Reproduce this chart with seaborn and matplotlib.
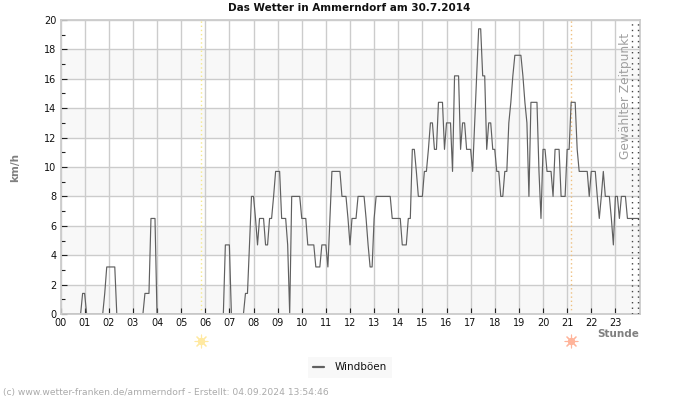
import numpy as np
import pandas as pd
import matplotlib
matplotlib.use("Agg")
import matplotlib.pyplot as plt
import seaborn as sns

# wind gusts in km/h, 5 minute readings, one list per hour
h00 = [0, 0, 0, 0, 0, 0, 0, 0, 0, 0, 0, 1.4]
h01 = [1.4, 0, 0, 0, 0, 0, 0, 0, 0, 0, 1.4, 3.2]
h02 = [3.2, 3.2, 3.2, 3.2, 0, 0, 0, 0, 0, 0, 0, 0]
h03 = [0, 0, 0, 0, 0, 0, 1.4, 1.4, 1.4, 6.5, 6.5, 6.5]
h04 = [0, 0, 0, 0, 0, 0, 0, 0, 0, 0, 0, 0]
h05 = [0, 0, 0, 0, 0, 0, 0, 0, 0, 0, 0, 0]
h06 = [0, 0, 0, 0, 0, 0, 0, 0, 0, 0, 4.7, 4.7]
h07 = [4.7, 0, 0, 0, 0, 0, 0, 0, 1.4, 1.4, 4.7, 8.0]
h08 = [8.0, 6.5, 4.7, 6.5, 6.5, 6.5, 4.7, 4.7, 6.5, 6.5, 8.0, 9.7]
h09 = [9.7, 9.7, 6.5, 6.5, 6.5, 4.7, 0, 8.0, 8.0, 8.0, 8.0, 8.0]
h10 = [6.5, 6.5, 6.5, 4.7, 4.7, 4.7, 4.7, 3.2, 3.2, 3.2, 4.7, 4.7]
h11 = [4.7, 3.2, 6.5, 9.7, 9.7, 9.7, 9.7, 9.7, 8.0, 8.0, 8.0, 6.5]
h12 = [4.7, 6.5, 6.5, 6.5, 8.0, 8.0, 8.0, 8.0, 6.5, 4.7, 3.2, 3.2]
h13 = [6.5, 8.0, 8.0, 8.0, 8.0, 8.0, 8.0, 8.0, 8.0, 6.5, 6.5, 6.5]
h14 = [6.5, 6.5, 4.7, 4.7, 4.7, 6.5, 6.5, 11.2, 11.2, 9.7, 8.0, 8.0]
h15 = [8.0, 9.7, 9.7, 11.2, 13.0, 13.0, 11.2, 11.2, 14.4, 14.4, 14.4, 11.2]
h16 = [13.0, 13.0, 13.0, 9.7, 16.2, 16.2, 16.2, 11.2, 13.0, 13.0, 11.2, 11.2]
h17 = [11.2, 9.7, 13.0, 16.2, 19.4, 19.4, 16.2, 16.2, 11.2, 13.0, 13.0, 11.2]
h18 = [11.2, 9.7, 9.7, 8.0, 8.0, 9.7, 9.7, 13.0, 14.4, 16.2, 17.6, 17.6]
h19 = [17.6, 17.6, 16.2, 14.4, 13.0, 8.0, 14.4, 14.4, 14.4, 14.4, 9.7, 6.5]
h20 = [11.2, 11.2, 9.7, 9.7, 9.7, 8.0, 11.2, 11.2, 11.2, 8.0, 8.0, 8.0]
h21 = [11.2, 11.2, 14.4, 14.4, 14.4, 11.2, 9.7, 9.7, 9.7, 9.7, 9.7, 8.0]
h22 = [9.7, 9.7, 9.7, 8.0, 6.5, 8.0, 9.7, 8.0, 8.0, 8.0, 6.5, 4.7]
h23 = [8.0, 8.0, 6.5, 8.0, 8.0, 8.0, 6.5, 6.5, 6.5, 6.5, 6.5, 6.5, 6.5]

hour_lists = [h00, h01, h02, h03, h04, h05, h06, h07, h08, h09, h10, h11,
              h12, h13, h14, h15, h16, h17, h18, h19, h20, h21, h22, h23]
gusts = [v for h in hour_lists for v in h]
df = pd.DataFrame({"stunde": np.arange(len(gusts)) / 12, "wind": gusts})

hour_labels = ["%02d" % i for i in range(24)]
y_labels = [0, 2, 4, 6, 8, 10, 12, 14, 16, 18, 20]
sunrise = 5.83
sunset = 21.18
selected = [23.7, 23.94]

sns.set_theme(style="white")
plt.rcParams["font.family"] = "DejaVu Sans"

fig = plt.figure(figsize=(7, 4), dpi=100, facecolor="white")
ax = fig.add_axes([60.5 / 700, 86 / 400, 579 / 700, 294 / 400])

# bands and grid
for low in [0, 4, 8, 12, 16]:
    ax.axhspan(low, low + 2, color="#f8f8f8", lw=0, zorder=0)
ax.grid(True, color="#cccccc", lw=1, zorder=1)
ax.set_axisbelow(True)

ax.axvline(sunrise, color="#f5e88a", lw=1, ls=(0, (1, 2)), zorder=2)
ax.axvline(sunset, color="#eec080", lw=1, ls=(0, (1, 2)), zorder=2)
for x in selected:
    ax.axvline(x, color="#444444", lw=1, ls=(0, (1, 3)), zorder=5)

sns.lineplot(data=df, x="stunde", y="wind", color="#606060", lw=0.85, ax=ax,
             label="Windböen", errorbar=None, estimator=None, zorder=3)

ax.set_xlim(0, 24)
ax.set_ylim(0, 20)
ax.set_xticks(range(24))
ax.set_xticklabels(hour_labels)
ax.set_yticks(y_labels)
ax.set_yticks(range(1, 20, 2), minor=True)
ax.tick_params(axis="both", which="major", direction="in", length=4, width=0.8,
               color="#222222", labelsize=7, labelcolor="#111111", pad=3,
               bottom=True, left=True)
ax.tick_params(axis="y", which="minor", direction="in", length=3, width=0.8,
               color="#222222", left=True)
for side in ax.spines.values():
    side.set_color("#cccccc")
    side.set_linewidth(1.3)
    side.set_zorder(4)

ax.set_xlabel("")
ax.set_ylabel("")
fig.text(15.5 / 700, 1 - 167 / 400, "km/h", rotation=90, ha="center", va="center",
         fontsize=7.5, fontweight="bold", color="#808080")
fig.text(639 / 700, 1 - 334 / 400, "Stunde", ha="right", va="center",
         fontsize=7.5, fontweight="bold", color="#808080")
fig.text(349.5 / 700, 1 - 8 / 400, "Das Wetter in Ammerndorf am 30.7.2014", ha="center",
         va="center", fontsize=7.5, fontweight="bold", color="#111111")
fig.text(625 / 700, 1 - 95.5 / 400, "Gewählter Zeitpunkt", rotation=90, ha="center",
         va="center", fontsize=8.8, color="#a0a0a0")
fig.text(3 / 700, 1 - 393 / 400, "(c) www.wetter-franken.de/ammerndorf - Erstellt: 04.09.2024 13:54:46",
         ha="left", va="center", fontsize=6.6, color="#aaaaaa")

# sun symbols below the axis
trans = ax.get_xaxis_transform()
for x, col in [(sunrise, "#ffe9a0"), (sunset, "#ffb49a")]:
    ax.scatter([x], [-0.0918], s=28, color=col, lw=0, transform=trans, clip_on=False)
    ax.scatter([x], [-0.0918], s=85, marker=(8, 2, 0), color=col, lw=0.8, transform=trans, clip_on=False)

leg = ax.legend(loc="center", bbox_to_anchor=(350 / 700, 1 - 367.5 / 400),
                bbox_transform=fig.transFigure, frameon=True, fontsize=7.5,
                fancybox=False, handlelength=1.0, handletextpad=1.0,
                borderpad=0.55, borderaxespad=0, labelcolor="#111111")
leg.get_frame().set_facecolor("#f8f8f8")
leg.get_frame().set_edgecolor("none")
leg.get_frame().set_alpha(1)
leg.get_lines()[0].set_linewidth(1.6)

fig.savefig("out.png", dpi=100)
